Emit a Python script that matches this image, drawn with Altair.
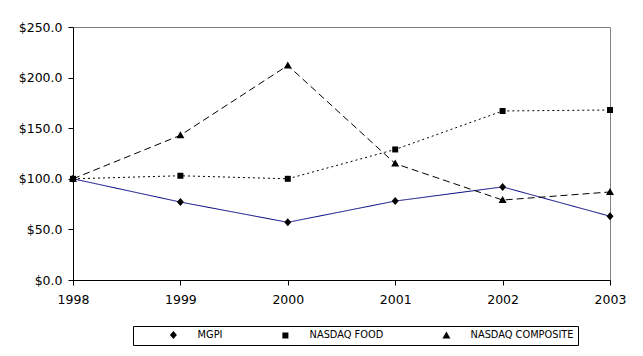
import altair as alt
import pandas as pd

years = [1998, 1999, 2000, 2001, 2002, 2003]
mgpi = [100, 77, 57, 78, 92, 63]
nasdaq_food = [100, 103, 100, 129, 167, 168]
nasdaq_comp = [100, 143, 212, 115, 79, 87]
series_names = ["MGPI", "NASDAQ FOOD", "NASDAQ COMPOSITE"]
y_ticks = [0, 50, 100, 150, 200, 250]

rows = []
for name, vals in zip(series_names, [mgpi, nasdaq_food, nasdaq_comp]):
    for yr, v in zip(years, vals):
        rows.append({"year": yr, "value": v, "series": name})
df = pd.DataFrame(rows)

FONT = "DejaVu Sans"
line_colors = ["#000080", "#000000", "#000000"]
dashes = [[1, 0], [2, 3], [7, 4]]
marker_paths = ["M0,-4L3.5,0L0,4L-3.5,0Z", "M-3,-3H3V3H-3Z", "M0,-4L4,3H-4Z"]
legend_paths = [
    "M-21,0H21M0,-4L3.5,0L0,4L-3.5,0Z",
    "M-21,0H-19M-16,0H-14M-11,0H-9M-6,0H-4M4,0H6M9,0H11M14,0H16M19,0H21M-3,-3H3V3H-3Z",
    "M-21,0H-14M-10,0H-3M3,0H10M14,0H21M0,-4L4,3H-4Z",
]

x = alt.X("year:Q",
          scale=alt.Scale(domain=[1998, 2003], nice=False, zero=False),
          axis=alt.Axis(values=years, format="d", title=None, labelFlush=False,
                        grid=False, tickSize=5, labelPadding=8))
y = alt.Y("value:Q",
          scale=alt.Scale(domain=[0, 250], nice=False),
          axis=alt.Axis(values=y_ticks, format="$.1f", title=None, grid=False,
                        tickSize=5, labelPadding=6))

leg = alt.Legend(
    title=None, orient="none", legendX=60, legendY=299, direction="horizontal", columns=3,
    padding=4, strokeColor="black", fillColor="white", cornerRadius=0,
    labelFont=FONT, labelFontSize=9.8, labelColor="black",
    symbolSize=4, symbolOffset=31.5, labelOffset=19.3, columnPadding=26,
    symbolStrokeWidth=1, symbolFillColor="black", symbolStrokeColor="black",
    labelExpr="datum.label == 'NASDAQ COMPOSITE' ? datum.label + '\u00a0\u00a0\u00a0\u00a0\u00a0\u00a0' : datum.label",
)

legend_layer = alt.Chart(df).mark_point(filled=True, fill="black", size=4, opacity=0).encode(
    x=x, y=y,
    shape=alt.Shape("series:N", scale=alt.Scale(domain=series_names, range=legend_paths), legend=leg),
)

lines = alt.Chart(df).mark_line(strokeWidth=1).encode(
    x=x, y=y,
    color=alt.Color("series:N", scale=alt.Scale(domain=series_names, range=line_colors), legend=None),
    strokeDash=alt.StrokeDash("series:N", scale=alt.Scale(domain=series_names, range=dashes), legend=None),
)

markers = alt.Chart(df).mark_point(filled=True, color="black", size=4, opacity=1).encode(
    x=x, y=y,
    shape=alt.Shape("series:N", scale=alt.Scale(domain=series_names, range=marker_paths), legend=None),
)

chart = (
    alt.layer(legend_layer, lines, markers)
    .resolve_scale(shape="independent")
    .properties(width=537, height=253,
                autosize=alt.AutoSizeParams(type="none"),
                padding={"left": 73, "top": 27, "right": 33, "bottom": 76},
                background="white")
    .configure_view(stroke="#808080", strokeWidth=1)
    .configure_axis(domainColor="black", tickColor="black", labelFont=FONT,
                    labelFontSize=12.5, labelColor="black", domainWidth=1, tickWidth=1)
)

chart.save("out.html", embed_options={"renderer": "svg", "actions": False})
